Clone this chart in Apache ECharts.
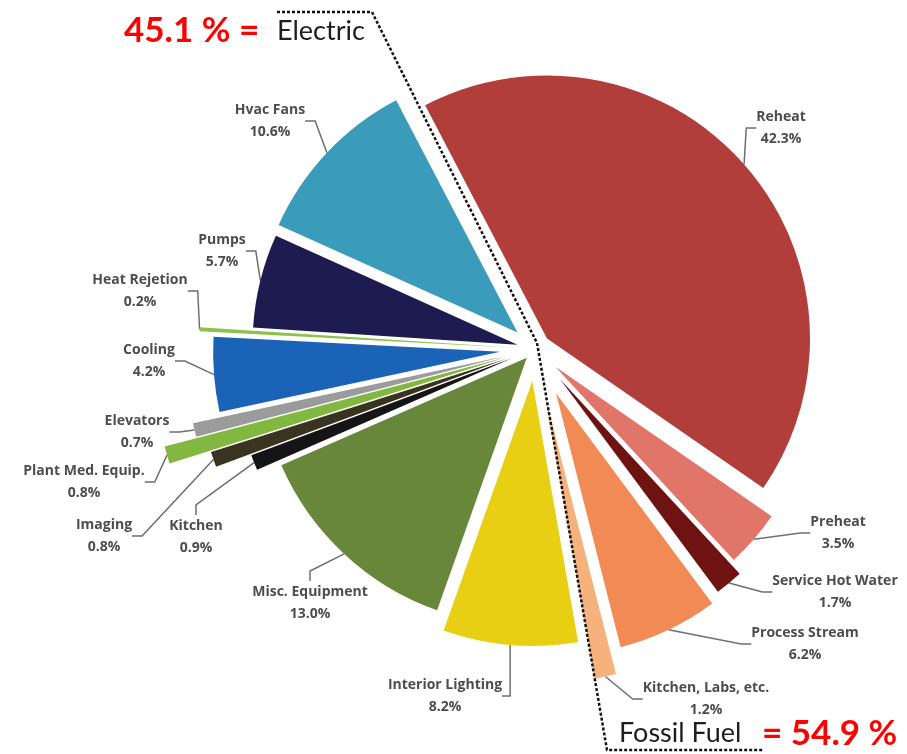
<!DOCTYPE html>
<html>
<head>
<meta charset="utf-8">
<script src="https://cdn.jsdelivr.net/npm/echarts@6/dist/echarts.min.js"></script>
<style>html,body{margin:0;padding:0;background:#fff;}#c{width:907px;height:754px;}</style>
</head>
<body>
<div id="c"></div>
<script>
// ---- data ----
const categories = ['Reheat','Preheat','Service Hot Water','Process Stream','Kitchen, Labs, etc.','Interior Lighting','Misc. Equipment','Kitchen','Imaging','Plant Med. Equip.','Elevators','Cooling','Heat Rejetion','Pumps','Hvac Fans'];
const values = [42.3, 3.5, 1.7, 6.2, 1.2, 8.2, 13.0, 0.9, 0.8, 0.8, 0.7, 4.2, 0.2, 5.7, 10.6];
const groupLabels = ['45.1 % =', 'Electric', 'Fossil Fuel', '= 54.9 %'];

// ---- styles / geometry (not data) ----
const colors = ['#b23e3b','#e2756a','#6e1212','#f28a56','#f5b27c','#e8cf14','#68873a','#151515','#39341f','#82b840','#9b9b9b','#1b63b6','#8cc14c','#1d1b4f','#3a9bbb'];
const offsets = [16, 27, 39, 49, 45, 32, 12, 25, 30, 30, 30, 35, 20, 18, 24];
const radii   = [263, 263, 265, 262, 290, 265, 268, 278, 310, 353, 320, 287, 316, 265, 262];
const labelPos = [[781,128],[838,533],[835,592],[805,644],[706,699],[445,696],[310,603],[196,537],[104,536],[84,482],[137,432],[149,361],[140,291],[222,251],[270,121]];
const C = [535, 349];
const START = 117.6; // degrees, echarts convention

const total = values.reduce((a, b) => a + b, 0);
let acc = 0;
const mids = values.map(v => { const m = (acc + v / 2) / total * 360; acc += v; return m; });

const series = categories.map((name, i) => {
  const ang = (START - mids[i]) * Math.PI / 180;
  const cx = C[0] + offsets[i] * Math.cos(ang);
  const cy = C[1] - offsets[i] * Math.sin(ang);
  return {
    type: 'pie',
    center: [cx, cy],
    radius: [0, radii[i]],
    startAngle: START,
    clockwise: true,
    avoidLabelOverlap: false,
    animation: false,
    silent: true,
    data: categories.map((n, j) => j === i ? {
      name: n, value: values[j],
      itemStyle: { color: colors[j] },
      label: { show: true },
      labelLine: { show: true }
    } : {
      name: n, value: values[j],
      itemStyle: { color: 'rgba(0,0,0,0)' },
      label: { show: false },
      labelLine: { show: false }
    }),
    label: {
      position: 'outside',
      formatter: p => p.name + '\n' + p.value.toFixed(1) + '%',
      fontFamily: 'Open Sans',
      fontSize: 14,
      fontWeight: 'bold',
      color: '#4d4d4d',
      lineHeight: 22,
      align: 'center'
    },
    labelLine: { length: 10, length2: 10, lineStyle: { color: '#6f6f6f', width: 1.5 } },
    labelLayout: params => params.dataIndex === i ? {
      x: labelPos[i][0], y: labelPos[i][1], align: 'center', verticalAlign: 'middle'
    } : {}
  };
});

const chart = echarts.init(document.getElementById('c'), null, { renderer: 'canvas' });
chart.setOption({
  backgroundColor: '#ffffff',
  series: series,
  graphic: [
    { type: 'polyline', z: 100, shape: { points: [[277,12],[372,12],[537,343],[607,750],[763,750]] },
      style: { stroke: '#111', lineWidth: 2.5, fill: null, lineDash: [3, 2] } },
    { type: 'text', z: 101, left: 124, top: 13, style: { text: groupLabels[0], fill: '#ff0000', font: 'bold 35px Lato' } },
    { type: 'text', z: 101, left: 277, top: 18, style: { text: groupLabels[1], fill: '#1e1e1e', font: '27px Lato' } },
    { type: 'text', z: 101, left: 619, top: 720, style: { text: groupLabels[2], fill: '#1e1e1e', font: '27px Lato' } },
    { type: 'text', z: 101, left: 762, top: 716, style: { text: groupLabels[3], fill: '#ff0000', font: 'bold 35px Lato' } }
  ]
});
</script>
</body>
</html>
